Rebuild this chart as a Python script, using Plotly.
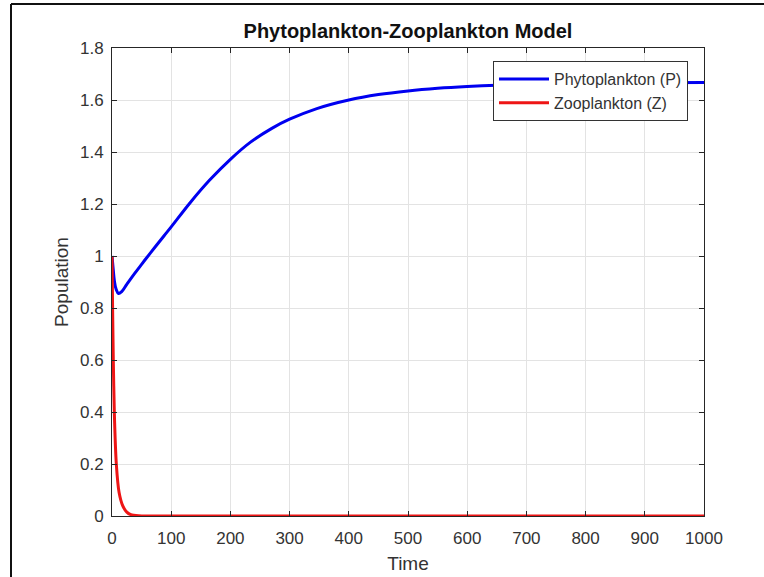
import plotly.graph_objects as go

# ---- data ----
t_p = [0, 2, 4, 7, 11, 16, 25, 38, 50, 65, 88, 100, 132, 165, 200, 234, 270,
       300, 346, 400, 450, 500, 550, 600, 650, 700, 800, 900, 1000]
p_vals = [1.0, 0.95, 0.905, 0.872, 0.856, 0.862, 0.891, 0.932, 0.968, 1.012,
          1.078, 1.112, 1.205, 1.292, 1.372, 1.438, 1.491, 1.526, 1.567, 1.600,
          1.621, 1.635, 1.645, 1.652, 1.657, 1.660, 1.664, 1.666, 1.667]

t_z = [0, 1, 2.2, 3.9, 7.3, 12, 18, 25, 32, 45, 60, 100, 200, 400, 600, 800, 1000]
z_vals = [1.0, 0.8, 0.6, 0.4, 0.2, 0.09, 0.04, 0.015, 0.005, 0.001, 0.0, 0.0,
          0.0, 0.0, 0.0, 0.0, 0.0]

x_ticks = [0, 100, 200, 300, 400, 500, 600, 700, 800, 900, 1000]
y_ticks = [0, 0.2, 0.4, 0.6, 0.8, 1.0, 1.2, 1.4, 1.6, 1.8]
y_tick_text = ["0", "0.2", "0.4", "0.6", "0.8", "1", "1.2", "1.4", "1.6", "1.8"]

W, H = 764, 577
ML, MR, MT, MB = 112, 60, 48, 61
PW, PH = W - ML - MR, H - MT - MB

FONT = "Liberation Sans, Arial, Helvetica, sans-serif"
AX = "#333333"

fig = go.Figure()
fig.add_trace(go.Scatter(x=t_p, y=p_vals, mode="lines", name="Phytoplankton (P)",
                         line=dict(color="#0000f0", width=3, shape="spline", smoothing=1.1)))
fig.add_trace(go.Scatter(x=t_z, y=z_vals, mode="lines", name="Zooplankton (Z)",
                         line=dict(color="#ee1515", width=3, shape="spline", smoothing=0.5)))

axis_common = dict(showline=True, linecolor="#262626", linewidth=1, mirror="ticks",
                   ticks="inside", ticklen=5, tickcolor="#262626", showgrid=True,
                   gridcolor="#e3e3e3", gridwidth=1, zeroline=False, automargin=False,
                   tickfont=dict(family=FONT, size=17, color=AX))

fig.update_xaxes(range=[0, 1000], tickvals=x_ticks, ticklabelstandoff=7,
                 title=dict(text="Time", font=dict(family=FONT, size=19, color=AX), standoff=9),
                 **axis_common)
fig.update_yaxes(range=[0, 1.8], tickvals=y_ticks, ticktext=y_tick_text, ticklabelstandoff=4,
                 title=dict(text="Population", font=dict(family=FONT, size=19, color=AX), standoff=6),
                 **axis_common)

def px_x(p):
    return (p - ML) / PW

def px_y(p):
    return (H - MB - p) / PH

fig.update_layout(
    width=W, height=H,
    margin=dict(l=ML, r=MR, t=MT, b=MB, autoexpand=False),
    paper_bgcolor="white", plot_bgcolor="white",
    title=dict(text="<b>Phytoplankton-Zooplankton Model</b>", xref="paper", x=0.5, xanchor="center",
               yref="container", y=1 - 31 / H, yanchor="middle",
               font=dict(family=FONT, size=20, color="#111111")),
    legend=dict(x=px_x(688), xanchor="right", y=px_y(61), yanchor="top",
                bgcolor="white", bordercolor="#333333", borderwidth=1,
                font=dict(family=FONT, size=16, color=AX), itemwidth=50,
                tracegroupgap=0),
    showlegend=True,
    shapes=[
        dict(type="line", xref="paper", yref="paper", x0=px_x(11), x1=px_x(764),
             y0=px_y(4), y1=px_y(4), line=dict(color="#111111", width=2)),
        dict(type="line", xref="paper", yref="paper", x0=px_x(11), x1=px_x(11),
             y0=px_y(4), y1=px_y(577), line=dict(color="#111111", width=2)),
    ],
)

fig.write_html("out.html")
